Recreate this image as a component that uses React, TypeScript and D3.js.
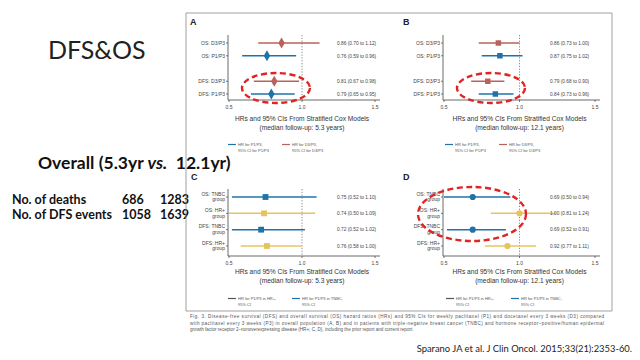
import React from "react";
import * as d3 from "d3";

// overall population (panels A, B)
const overallRows = ["OS: D3/P3", "OS: P1/P3", "DFS: D3/P3", "DFS: P1/P3"];
const overallArm = ["D3", "P1", "D3", "P1"];
const hr53 = [0.86, 0.76, 0.81, 0.79];
const lo53 = [0.7, 0.59, 0.67, 0.65];
const hi53 = [1.12, 0.96, 0.98, 0.95];
const hr121 = [0.86, 0.87, 0.79, 0.84];
const lo121 = [0.73, 0.75, 0.68, 0.73];
const hi121 = [1.0, 1.02, 0.9, 0.96];

// subgroups (panels C, D)
const subRows = [["OS: TNBC", "group"], ["OS: HR+", "group"], ["DFS: TNBC", "group"], ["DFS: HR+", "group"]];
const subType = ["TNBC", "HR+", "TNBC", "HR+"];
const hrSub53 = [0.75, 0.74, 0.72, 0.76];
const loSub53 = [0.52, 0.5, 0.52, 0.58];
const hiSub53 = [1.1, 1.09, 1.02, 1.0];
const hrSub121 = [0.69, 1.0, 0.69, 0.92];
const loSub121 = [0.5, 0.81, 0.52, 0.77];
const hiSub121 = [0.94, 1.24, 0.91, 1.11];

const xTicks = [0.5, 1.0, 1.5];
const deaths = ["686", "1283"];
const dfsEvents = ["1058", "1639"];

const caption = [
  "Fig. 3.  Disease-free survival (DFS) and overall survival (OS) hazard ratios (HRs) and 95% CIs for weekly paclitaxel (P1) and docetaxel every 3 weeks (D3) compared",
  "with paclitaxel every 3 weeks (P3) in overall population (A, B) and in patients with triple-negative breast cancer (TNBC) and hormone receptor\u2013positive/human epidermal",
  "growth factor receptor 2\u2013nonoverexpressing disease (HR+; C, D), including the prior report and current report.",
];

const RED = "#b9625c";
const BLUE = "#1f73a8";
const GOLD = "#e6c45c";
const FIG_FONT = "'Liberation Sans', Arial, sans-serif";
const SLIDE_FONT = "Lato, 'Open Sans', sans-serif";

type PanelProps = {
  letter: string;
  letterX: number;
  letterY: number;
  x0: number; // pixel of 0.5
  x1: number; // pixel of 1.5
  yTop: number;
  yBottom: number;
  rowRange: [number, number];
  withGap: boolean;
  labels: string[][];
  hr: number[];
  lo: number[];
  hi: number[];
  colors: string[];
  shape: d3.SymbolType;
  symSize: number;
  annX: number;
  titleY: number;
  followUp: string;
  legend: { color: string; l1: string; l2: string; x: number }[];
  legendY: number;
};

const Panel: React.FC<PanelProps> = (p) => {
  const x = d3.scaleLinear().domain([0.5, 1.5]).range([p.x0, p.x1]);
  const keys = p.labels.map((_, i) => String(i));
  const domain = p.withGap ? [keys[0], keys[1], "gap", keys[2], keys[3]] : keys;
  const y = d3.scalePoint<string>().domain(domain).range(p.rowRange);
  const axisX = p.x0 - 1;
  const sym = d3.symbol().type(p.shape).size(p.symSize);
  const mid = x(1.0);
  return (
    <g fontFamily={FIG_FONT}>
      <text x={p.letterX} y={p.letterY} fontSize={9} fontWeight="bold" fill="#222">
        {p.letter}
      </text>
      {/* axes */}
      <line x1={axisX} x2={axisX} y1={p.yTop} y2={p.yBottom} stroke="#444" strokeWidth={0.8} />
      <line x1={axisX} x2={x(1.5) + 5} y1={p.yBottom} y2={p.yBottom} stroke="#444" strokeWidth={0.8} />
      <line x1={mid} x2={mid} y1={p.yTop} y2={p.yBottom} stroke="#555" strokeWidth={0.7} strokeDasharray="1.2,1.6" />
      {xTicks.map((t) => (
        <g key={t}>
          <line x1={x(t)} x2={x(t)} y1={p.yBottom} y2={p.yBottom + 2} stroke="#444" strokeWidth={0.7} />
          <text x={x(t)} y={p.yBottom + 9} fontSize={5} textAnchor="middle" fill="#444">
            {t.toFixed(1)}
          </text>
        </g>
      ))}
      {keys.map((k, i) => {
        const yy = y(k) as number;
        return (
          <g key={k}>
            <line x1={axisX - 2} x2={axisX} y1={yy} y2={yy} stroke="#444" strokeWidth={0.7} />
            {p.labels[i].length === 1 ? (
              <text x={axisX - 3} y={yy + 1.8} fontSize={5} textAnchor="end" fill="#444">
                {p.labels[i][0]}
              </text>
            ) : (
              <text x={axisX - 3} y={yy - 1.2} fontSize={5} textAnchor="end" fill="#444">
                <tspan x={axisX - 3}>{p.labels[i][0]}</tspan>
                <tspan x={axisX - 3} dy={5.6}>{p.labels[i][1]}</tspan>
              </text>
            )}
            <line x1={x(p.lo[i])} x2={x(p.hi[i])} y1={yy} y2={yy} stroke={p.colors[i]} strokeWidth={1.5} />
            <path d={sym() as string} transform={`translate(${x(p.hr[i])},${yy})`} fill={p.colors[i]} />
            <text x={p.annX} y={yy + 1.8} fontSize={4.8} fill="#444">
              {`${p.hr[i].toFixed(2)} (${p.lo[i].toFixed(2)} to ${p.hi[i].toFixed(2)})`}
            </text>
          </g>
        );
      })}
      <text x={mid} y={p.titleY} fontSize={6.6} textAnchor="middle" fill="#333">
        HRs and 95% CIs From Stratified Cox Models
      </text>
      <text x={mid} y={p.titleY + 9} fontSize={6.6} textAnchor="middle" fill="#333">
        {`(median follow-up: ${p.followUp})`}
      </text>
      {p.legend.map((l) => (
        <g key={l.l1}>
          <line x1={l.x} x2={l.x + 8} y1={p.legendY - 1.5} y2={p.legendY - 1.5} stroke={l.color} strokeWidth={1.2} />
          <text x={l.x + 10} y={p.legendY} fontSize={4} fill="#555">
            {l.l1}
          </text>
          <text x={l.x + 10} y={p.legendY + 5.5} fontSize={4} fill="#555">
            {l.l2}
          </text>
        </g>
      ))}
    </g>
  );
};

export default function App() {
  const ovColors = overallArm.map((a) => (a === "D3" ? RED : BLUE));
  const subColors = subType.map((t) => (t === "TNBC" ? BLUE : GOLD));
  const ovLabels = overallRows.map((r) => [r]);
  const legAB = (xa: number, xb: number) => [
    { color: BLUE, l1: "HR for P1/P3,", l2: "95% CI for P1/P3", x: xa },
    { color: RED, l1: "HR for D3/P3,", l2: "95% CI for D3/P3", x: xb },
  ];
  const legCD = (xa: number, xb: number) => [
    { color: "#555", l1: "HR for P1/P3 in HR+,", l2: "95% CI", x: xa },
    { color: BLUE, l1: "HR for P1/P3 in TNBC,", l2: "95% CI", x: xb },
  ];
  return (
    <div style={{ position: "absolute", left: 0, top: 0 }}>
      <svg width={640} height={360} style={{ display: "block", background: "#fff" }}>
        {/* slide text */}
        <text x={48} y={59} fontFamily={SLIDE_FONT} fontSize={25} fill="#222">
          DFS&amp;OS
        </text>
        <text x={38} y={169} fontFamily={SLIDE_FONT} fontSize={17.5} fontWeight="bold" fill="#111" style={{ whiteSpace: "pre" }}>
          Overall (5.3yr <tspan fontStyle="italic">vs.</tspan>{"  12.1yr)"}
        </text>
        <g fontFamily={SLIDE_FONT} fontSize={12.5} fontWeight="bold" fill="#111">
          <text x={12} y={204}>No. of deaths</text>
          <text x={122} y={204}>{deaths[0]}</text>
          <text x={160} y={204}>{deaths[1]}</text>
          <text x={12} y={219}>No. of DFS events</text>
          <text x={122} y={219}>{dfsEvents[0]}</text>
          <text x={160} y={219}>{dfsEvents[1]}</text>
        </g>

        {/* figure frame */}
        <polyline points="186,311 186,13 612,13 612,311" fill="none" stroke="#888" strokeWidth={0.8} />
        <line x1={186} x2={612} y1={311} y2={311} stroke="#888" strokeWidth={0.8} />

        <Panel letter="A" letterX={190} letterY={25} x0={229} x1={375} yTop={35} yBottom={100}
          rowRange={[43, 94]} withGap labels={ovLabels} hr={hr53} lo={lo53} hi={hi53}
          colors={ovColors} shape={d3.symbolDiamond} symSize={36} annX={337} titleY={121}
          followUp="5.3 years" legend={legAB(228, 282)} legendY={146} />
        <Panel letter="B" letterX={403} letterY={25} x0={444} x1={595} yTop={35} yBottom={100}
          rowRange={[43, 94]} withGap labels={ovLabels} hr={hr121} lo={lo121} hi={hi121}
          colors={ovColors} shape={d3.symbolSquare} symSize={30} annX={550} titleY={121}
          followUp="12.1 years" legend={legAB(445, 499)} legendY={146} />
        <Panel letter="C" letterX={191} letterY={180} x0={229} x1={375} yTop={189} yBottom={256}
          rowRange={[197, 246]} withGap={false} labels={subRows} hr={hrSub53} lo={loSub53} hi={hiSub53}
          colors={subColors} shape={d3.symbolSquare} symSize={34} annX={337} titleY={274}
          followUp="5.3 years" legend={legCD(228, 292)} legendY={300} />
        <Panel letter="D" letterX={403} letterY={180} x0={444} x1={595} yTop={189} yBottom={256}
          rowRange={[197, 246]} withGap={false} labels={subRows} hr={hrSub121} lo={loSub121} hi={hiSub121}
          colors={subColors} shape={d3.symbolCircle} symSize={30} annX={550} titleY={274}
          followUp="12.1 years" legend={legCD(446, 511)} legendY={300} />

        {/* highlight ellipses */}
        <g fill="none" stroke="#e02424" strokeWidth={2.4} strokeDasharray="6,3.5">
          <ellipse cx={276} cy={88} rx={34} ry={15} />
          <ellipse cx={491} cy={88} rx={34} ry={15} />
          <ellipse cx={472} cy={214} rx={54} ry={27} />
        </g>

        {/* caption */}
        <g fontFamily={FIG_FONT} fontSize={4.6} fill="#555">
          {caption.map((c, i) => (
            <text key={i} x={190} y={318 + i * 6.5} textLength={i < 2 ? 414 : undefined}>
              {c}
            </text>
          ))}
        </g>
        <text x={632} y={352} textAnchor="end" fontFamily={SLIDE_FONT} fontSize={9.4} fill="#222">
          Sparano JA et al. J Clin Oncol. 2015;33(21):2353-60.
        </text>
      </svg>
    </div>
  );
}
